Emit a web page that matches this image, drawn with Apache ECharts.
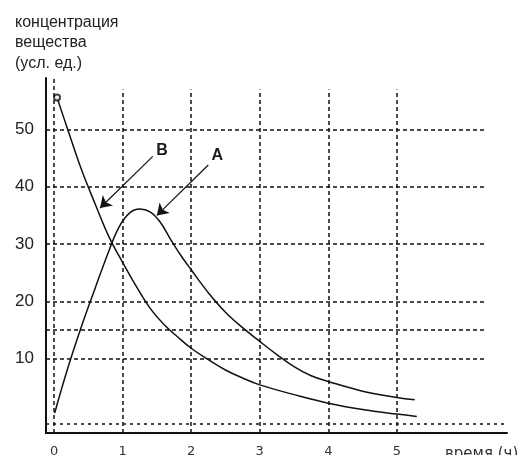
<!DOCTYPE html>
<html>
<head>
<meta charset="utf-8">
<script src="https://cdn.jsdelivr.net/npm/echarts@6/dist/echarts.min.js"></script>
<style>
html,body{margin:0;padding:0;background:#fff;}
#chart{width:522px;height:455px;}
</style>
</head>
<body>
<div id="chart"></div>
<script>
// ---- data ----
const titleLines = ['концентрация', 'вещества', '(усл. ед.)'];
const xAxisName = 'время (ч)';
const xTicks = [0, 1, 2, 3, 4, 5];
const yTicks = [10, 20, 30, 40, 50];
const yExtraGrid = [15];          // unlabeled dashed grid line
const yBaseGrid = [-1.3];         // dotted line just above the axis
const labelA = 'A';
const labelB = 'B';

// curve A (rise then decay)
const timeA = [0.01, 0.2, 0.4, 0.6, 0.8, 0.95, 1.1, 1.25, 1.4, 1.55, 1.7, 1.85, 2.0, 2.25, 2.5, 2.75, 3.0, 3.25, 3.5, 3.75, 4.0, 4.5, 5.0, 5.26];
const concA = [0.5, 8.3, 15.6, 22.3, 28.8, 33.0, 35.4, 36.1, 35.6, 33.8, 30.8, 28.0, 25.5, 21.5, 18.1, 15.4, 13.0, 10.7, 8.6, 7.0, 6.0, 4.3, 3.2, 2.8];

// curve B (decay)
const timeB = [0.044, 0.2, 0.4, 0.6, 0.8, 1.0, 1.2, 1.4, 1.6, 1.8, 2.0, 2.25, 2.5, 2.75, 3.0, 3.5, 4.0, 4.5, 5.0, 5.29];
const concB = [55.6, 50.0, 43.0, 37.0, 31.3, 26.8, 22.6, 18.8, 16.0, 13.8, 11.8, 9.8, 8.0, 6.6, 5.4, 3.7, 2.2, 1.1, 0.3, -0.1];

// ---- chart ----
const X_MIN = -0.117, X_MAX = 6.606, Y_MIN = -3, Y_MAX = 59;
const GRID_X_END = 6.27, BASE_X_END = 6.58;
const gridStyle = {color: '#111', width: 1.5, type: [4, 3]};

const pairs = (xs, ys) => xs.map((x, i) => [x, ys[i]]);

const hLines = yTicks.concat(yExtraGrid).map(v => [
  {coord: [X_MIN, v]}, {coord: [GRID_X_END, v]}
]).concat(yBaseGrid.map(v => [
  {coord: [X_MIN, v], lineStyle: {type: [3, 4]}}, {coord: [BASE_X_END, v]}
]));
const vLines = xTicks.map((t, i) => [
  {coord: [t, Y_MIN]}, {coord: [t, i === 0 ? 59 : 57]}
]);

const chart = echarts.init(document.getElementById('chart'), null, {renderer: 'canvas'});
chart.setOption({
  animation: false,
  backgroundColor: '#fff',
  title: [
    {
      text: titleLines.join('\n'), left: 15, top: 12, padding: 0,
      textStyle: {fontFamily: 'Liberation Sans', fontSize: 16, fontWeight: 'normal', color: '#222', lineHeight: 20.5}
    },
    {
      text: xAxisName, left: 445, top: 445, padding: 0,
      textStyle: {fontFamily: 'DejaVu Sans', fontSize: 15, fontWeight: 'normal', color: '#333', lineHeight: 18}
    }
  ],
  grid: {left: 46, right: 15, top: 78, bottom: 22, containLabel: false, outerBoundsMode: 'none'},
  xAxis: {
    type: 'value', min: X_MIN, max: X_MAX,
    axisLine: {show: true, onZero: false, lineStyle: {color: '#111', width: 2}},
    axisTick: {show: false},
    splitLine: {show: false},
    axisLabel: {
      customValues: xTicks, showMinLabel: true, showMaxLabel: true,
      margin: 12, fontFamily: 'DejaVu Sans', fontSize: 13, color: '#333'
    }
  },
  yAxis: {
    type: 'value', min: Y_MIN, max: Y_MAX,
    axisLine: {show: true, onZero: false, lineStyle: {color: '#111', width: 2}},
    axisTick: {show: false},
    splitLine: {show: false},
    axisLabel: {
      customValues: yTicks,
      margin: 12, fontFamily: 'Liberation Sans', fontSize: 17, color: '#222'
    }
  },
  series: [
    {
      type: 'line', data: [], silent: true,
      markLine: {
        silent: true, symbol: ['none', 'none'], animation: false,
        label: {show: false}, lineStyle: gridStyle,
        emphasis: {disabled: true},
        data: hLines.concat(vLines)
      }
    },
    {
      name: labelA, type: 'line', data: pairs(timeA, concA),
      smooth: 0.4, showSymbol: false, silent: true,
      lineStyle: {color: '#111', width: 1.5},
      markLine: {
        silent: true, symbol: ['none', 'arrow'], symbolSize: 11, animation: false,
        label: {show: false}, lineStyle: {color: '#111', width: 1.2, type: 'solid'},
        itemStyle: {color: '#111'},
        data: [[{coord: [2.25, 43.8]}, {coord: [1.50, 35.0]}]]
      },
      markPoint: {
        silent: true, symbol: 'circle', symbolSize: 0,
        label: {show: true, position: 'inside', formatter: labelA, fontFamily: 'Liberation Sans', fontSize: 16, fontWeight: 'bold', color: '#1a1a1a'},
        data: [{coord: [2.38, 45.5]}]
      }
    },
    {
      name: labelB, type: 'line', data: pairs(timeB, concB),
      smooth: 0.4, showSymbol: false, silent: true,
      lineStyle: {color: '#111', width: 1.5},
      markLine: {
        silent: true, symbol: ['none', 'arrow'], symbolSize: 11, animation: false,
        label: {show: false}, lineStyle: {color: '#111', width: 1.2, type: 'solid'},
        itemStyle: {color: '#111'},
        data: [[{coord: [1.44, 45.3]}, {coord: [0.671, 36.3]}]]
      },
      markPoint: {
        silent: true, symbol: 'circle', symbolSize: 0,
        label: {show: true, position: 'inside', formatter: labelB, fontFamily: 'Liberation Sans', fontSize: 16, fontWeight: 'bold', color: '#1a1a1a'},
        data: [{coord: [1.575, 46.4]}]
      }
    },
    {
      type: 'scatter', silent: true, z: 5,
      data: [[timeB[0], concB[0]]],
      symbol: 'emptyCircle', symbolSize: 6,
      itemStyle: {color: '#111', borderColor: '#111', borderWidth: 1}
    }
  ]
});
</script>
</body>
</html>
